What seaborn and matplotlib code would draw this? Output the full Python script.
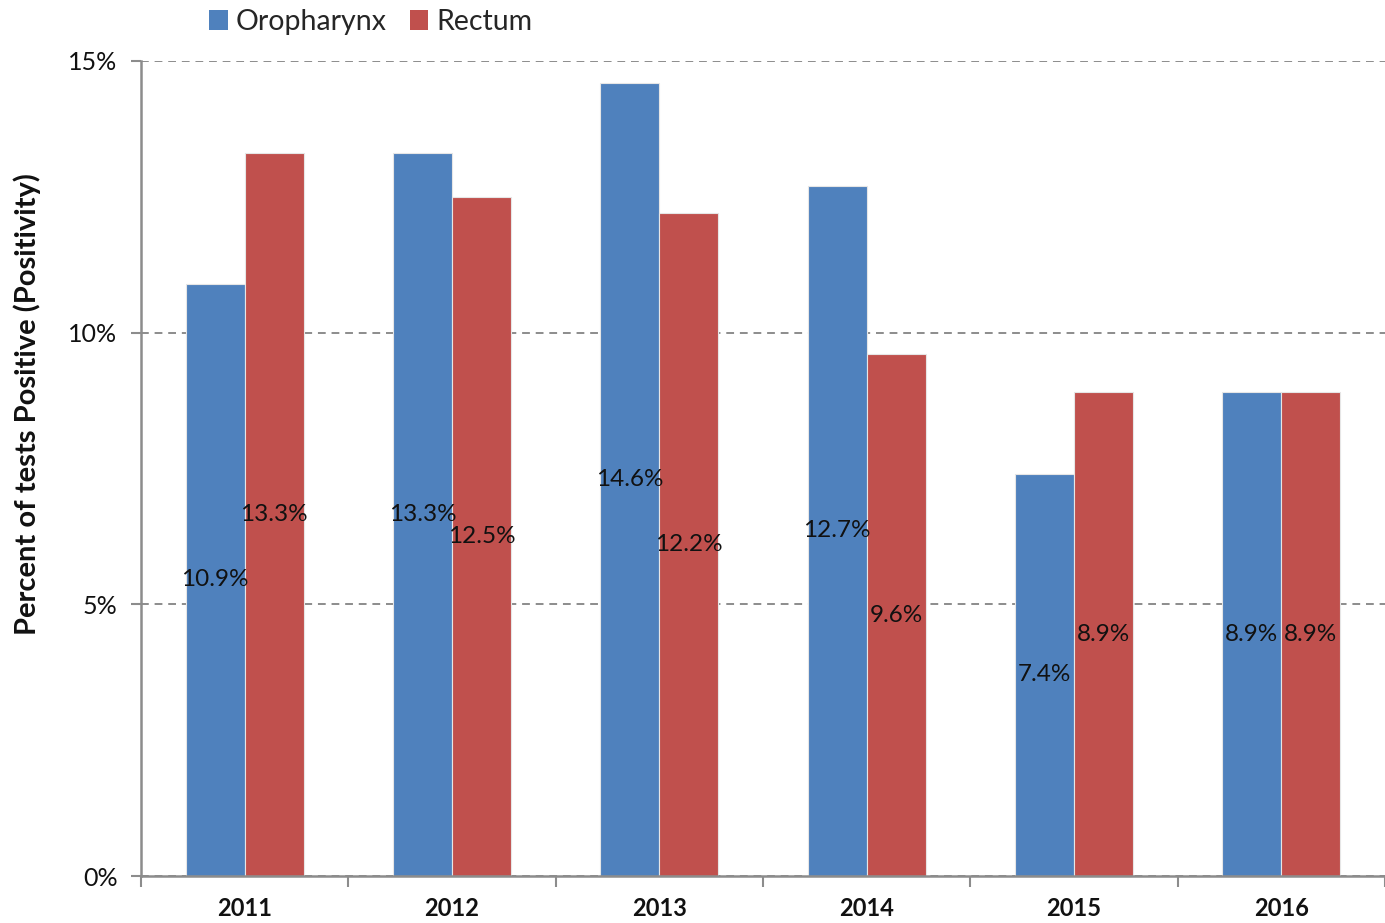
import matplotlib
matplotlib.use("Agg")
import matplotlib.pyplot as plt
import seaborn as sns
import pandas as pd
import numpy as np
from matplotlib.ticker import FixedLocator, FuncFormatter
from matplotlib.patches import Patch

years = ["2011", "2012", "2013", "2014", "2015", "2016"]
oropharynx = [10.9, 13.3, 14.6, 12.7, 7.4, 8.9]
rectum = [13.3, 12.5, 12.2, 9.6, 8.9, 8.9]
series = ["Oropharynx", "Rectum"]
colors = ["#4F81BD", "#C0504D"]

df = pd.DataFrame({
    "year": years * 2,
    "value": oropharynx + rectum,
    "site": [series[0]] * len(years) + [series[1]] * len(years),
})

sns.set_theme(style="white")
plt.rcParams["font.family"] = ["Lato", "DejaVu Sans"]

fig = plt.figure(figsize=(13.85, 9.23), dpi=100)
ax = fig.add_axes([141 / 1385, 1 - 876 / 923, 1 - 141 / 1385, (876 - 61) / 923])

sns.barplot(data=df, x="year", y="value", hue="site", palette=colors,
            width=0.57, ax=ax, edgecolor="#e6e6e6", linewidth=0.8,
            saturation=1, legend=False, zorder=3)

ax.set_xlim(-0.5, 5.5)
ax.set_ylim(0, 15)
ax.set_yticks([0, 5, 10, 15])
ax.yaxis.set_major_formatter(FuncFormatter(lambda v, p: f"{v:.0f}%"))
ax.yaxis.grid(True, linestyle=(0, (4, 3)), color="#8c8c8c", linewidth=1.4, zorder=0)
ax.set_axisbelow(True)

for s in ["top", "right"]:
    ax.spines[s].set_visible(False)
for s in ["left", "bottom"]:
    ax.spines[s].set_color("#8c8c8c")
    ax.spines[s].set_linewidth(1.8)
    ax.spines[s].set_zorder(4)

ax.tick_params(axis="y", which="major", left=True, length=7, width=1.5, color="#8c8c8c",
               labelsize=18, labelcolor="#111111", pad=10, direction="out")
ax.tick_params(axis="x", which="major", bottom=False, length=0, labelsize=17,
               labelcolor="#111111", pad=15)
ax.xaxis.set_minor_locator(FixedLocator(np.arange(-0.5, 6.0, 1.0)))
ax.tick_params(axis="x", which="minor", bottom=True, length=8, width=1.5, color="#8c8c8c",
               direction="out")
for lbl in ax.get_xticklabels():
    lbl.set_fontweight("bold")

ax.set_xlabel("")
ax.set_ylabel("Percent of tests Positive (Positivity)", fontsize=21, fontweight="bold",
              color="#111111")
ax.yaxis.set_label_coords(-0.0805, 0.579)

for cont in ax.containers:
    for bar in cont:
        h = bar.get_height()
        ax.text(bar.get_x() + bar.get_width() / 2, h / 2, f"{h:.1f}%",
                ha="center", va="center", fontsize=17.5, color="#111111", zorder=5)

handles = [Patch(facecolor=c, edgecolor="none") for c in colors]
fig.legend(handles, series, loc="center", bbox_to_anchor=(371 / 1385, 1 - 22 / 923),
           ncol=2, frameon=False, fontsize=20.5, handlelength=0.65, handleheight=0.65,
           handletextpad=0.3, columnspacing=0.8)

fig.savefig("out.png", dpi=100)
